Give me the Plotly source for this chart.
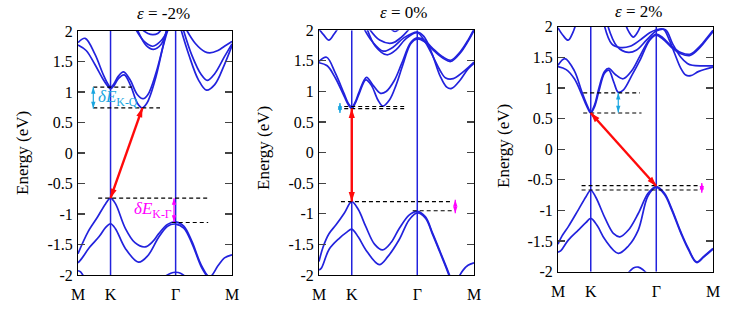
import plotly.graph_objects as go

W, H = 730, 312
PAGE_OFFSET = 0  # body margin removed by post_script below

# ---------------- data ----------------
KPATH_VALS = [0.0, 1.0, 3.0, 4.732]
KPATH_LABELS = ["M", "K", "Γ", "M"]
SYM_LINES = [1.0, 3.0]
Y_TICKS = [-2, -1.5, -1, -0.5, 0, 0.5, 1, 1.5, 2]
Y_TICKTEXT = ["-2", "-1.5", "-1", "-0.5", "0", "0.5", "1", "1.5", "2"]
TITLES = ["<i>ε</i> = -2%", "<i>ε</i> = 0%", "<i>ε</i> = 2%"]

# Panel 1 (strain -2%) bands: (k, E)
P1_CB1 = [(0,1.77),(0.25,1.68),(0.52,1.45),(0.78,1.2),(0.92,1.09),(1.0,1.05),(1.1,1.1),(1.24,1.22),(1.42,1.28),(1.62,1.1),(1.82,0.82),(1.97,0.74),(2.12,0.82),(2.37,1.2),(2.55,1.6),(2.75,2.1)]
P1_CB2 = [(0,1.81),(0.22,1.88),(0.52,1.62),(0.78,1.28),(0.92,1.13),(1.0,1.08),(1.1,1.13),(1.24,1.26),(1.4,1.33),(1.6,1.2),(1.82,0.96),(2.0,0.89),(2.15,0.96),(2.4,1.32),(2.6,1.72),(2.8,2.1)]
P1_U1 = [(1.75,2.05),(2.05,1.82),(2.3,1.75),(2.55,1.84),(2.8,2.05)]
P1_U2 = [(1.8,2.05),(2.1,1.76),(2.32,1.70),(2.55,1.78),(2.75,2.05)]
P1_U3 = [(1.9,2.05),(2.15,1.96),(2.3,1.94),(2.45,1.96),(2.6,2.05)]
P1_R1 = [(3.15,2.05),(3.4,1.62),(3.7,1.2),(3.95,1.03),(4.2,1.12),(4.5,1.45),(4.732,1.76)]
P1_R2 = [(3.22,2.05),(3.5,1.6),(3.78,1.29),(3.97,1.19),(4.2,1.3),(4.5,1.58),(4.732,1.79)]
P1_R3 = [(3.3,2.05),(3.6,1.8),(3.9,1.66),(4.05,1.64),(4.3,1.68),(4.5,1.75),(4.732,1.83)]
P1_VB1 = [(0,-1.65),(0.3,-1.3),(0.6,-1.05),(0.85,-0.83),(1.0,-0.74),(1.15,-0.83),(1.45,-1.23),(1.75,-1.47),(2.06,-1.54),(2.3,-1.45),(2.47,-1.33),(2.75,-1.17),(3.0,-1.13),(3.25,-1.2),(3.5,-1.45),(3.8,-1.85),(4.05,-2.03),(4.3,-1.85),(4.5,-1.72),(4.732,-1.67)]
P1_VB2 = [(0,-1.80),(0.1,-1.74),(0.35,-1.55),(0.65,-1.37),(0.85,-1.22),(1.0,-1.16),(1.15,-1.24),(1.45,-1.56),(1.86,-1.79),(2.15,-1.68),(2.47,-1.39),(2.75,-1.2),(3.0,-1.165),(3.25,-1.23),(3.5,-1.48),(3.8,-1.88),(4.0,-2.05)]
P1_BOT1 = [(0,-1.93),(0.08,-1.95),(0.2,-2.05)]
P1_BOT2 = [(2.6,-2.05),(2.85,-1.97),(3.0,-1.955),(3.15,-1.97),(3.35,-2.05)]

# Panel 2 (strain 0%)
P2_CB1 = [(0,1.47),(0.25,1.42),(0.5,1.22),(0.77,0.92),(0.9,0.78),(1.0,0.72),(1.1,0.8),(1.23,0.97),(1.43,1.19),(1.6,1.1),(1.8,0.86),(1.95,0.76),(2.15,0.86),(2.35,1.1),(2.55,1.42),(2.8,1.78),(3.0,1.86),(3.2,1.82),(3.54,1.65),(3.8,1.54),(4.02,1.49),(4.3,1.62),(4.55,1.82),(4.732,2.0)]
P2_CB2 = [(0,1.49),(0.23,1.56),(0.5,1.3),(0.77,0.96),(0.9,0.8),(1.0,0.745),(1.1,0.82),(1.23,1.0),(1.45,1.23),(1.65,1.1),(1.88,0.97),(2.05,1.0),(2.3,1.18),(2.52,1.45),(2.8,1.8),(3.0,1.875),(3.2,1.84),(3.54,1.67),(3.8,1.56),(4.02,1.51),(4.3,1.64),(4.55,1.84),(4.732,2.02)]
P2_U1 = [(1.35,2.05),(1.62,1.82),(1.96,1.66),(2.25,1.72),(2.6,1.88),(3.0,1.97),(3.2,1.9),(3.45,1.62),(3.7,1.25),(3.9,1.07),(4.05,1.05),(4.3,1.18),(4.55,1.37),(4.732,1.46)]
P2_U2 = [(1.45,2.05),(1.72,1.74),(2.07,1.60),(2.35,1.68),(2.65,1.86),(3.0,1.96),(3.25,1.8),(3.5,1.55),(3.7,1.34),(3.87,1.22),(4.1,1.21),(4.4,1.32),(4.732,1.48)]
P2_U3 = [(1.5,2.05),(1.85,1.84),(2.22,1.79),(2.5,1.88),(2.8,2.05)]
P2_U4 = [(2.15,2.05),(2.32,1.98),(2.5,2.05)]
P2_TL = [(0,2.02),(0.15,1.92),(0.3,1.84),(0.45,1.93),(0.6,2.05)]
P2_VB1 = [(0,-1.78),(0.12,-1.55),(0.3,-1.33),(0.52,-1.18),(0.77,-0.99),(1.0,-0.80),(1.2,-0.93),(1.43,-1.21),(1.7,-1.5),(1.94,-1.59),(2.2,-1.47),(2.45,-1.24),(2.75,-1.02),(3.0,-0.96),(3.25,-1.05),(3.47,-1.32),(3.7,-1.62),(3.88,-1.86),(4.02,-2.05)]
P2_VB2 = [(0,-1.92),(0.08,-1.88),(0.31,-1.58),(0.62,-1.40),(0.85,-1.3),(1.0,-1.25),(1.2,-1.38),(1.43,-1.59),(1.84,-1.83),(2.1,-1.7),(2.45,-1.42),(2.75,-1.1),(3.0,-0.985),(3.25,-1.07),(3.47,-1.34),(3.7,-1.64),(3.88,-1.88),(4.0,-2.05)]
P2_BOT = [(4.25,-2.05),(4.4,-1.92),(4.55,-1.84),(4.732,-1.80)]

# Panel 3 (strain 2%)
P3_CB1 = [(0,1.35),(0.25,1.3),(0.5,1.15),(0.72,0.9),(0.88,0.7),(1.0,0.59),(1.12,0.7),(1.25,0.95),(1.42,1.24),(1.55,1.29),(1.7,1.1),(1.84,0.93),(2.0,0.97),(2.25,1.2),(2.5,1.45),(2.8,1.78),(3.0,1.86),(3.2,1.8),(3.47,1.66),(3.75,1.56),(4.03,1.53),(4.35,1.67),(4.55,1.8),(4.732,1.92)]
P3_CB2 = [(0,1.37),(0.21,1.48),(0.5,1.28),(0.72,0.95),(0.88,0.73),(1.0,0.61),(1.12,0.73),(1.25,1.0),(1.42,1.27),(1.55,1.32),(1.75,1.22),(1.99,1.15),(2.25,1.28),(2.5,1.52),(2.8,1.8),(3.0,1.88),(3.2,1.82),(3.47,1.68),(3.75,1.58),(4.03,1.55),(4.35,1.69),(4.55,1.82),(4.732,1.94)]
P3_U1 = [(1.4,2.05),(1.64,1.72),(1.9,1.66),(2.2,1.68),(2.5,1.78),(2.8,1.9),(3.0,1.95),(3.22,1.96),(3.4,1.78),(3.57,1.55),(3.75,1.32),(3.9,1.21),(4.05,1.2),(4.3,1.27),(4.732,1.34)]
P3_U2 = [(1.5,2.05),(1.8,1.68),(2.15,1.58),(2.4,1.62),(2.7,1.78),(3.0,1.93),(3.28,1.95),(3.5,1.72),(3.75,1.5),(3.95,1.4),(4.1,1.37),(4.4,1.36),(4.732,1.36)]
P3_U3 = [(2.05,2.05),(2.18,1.9),(2.3,1.83),(2.42,1.9),(2.55,2.05)]
P3_TL = [(0,1.98),(0.15,1.86),(0.31,1.78),(0.45,1.9),(0.55,2.05)]
P3_VB1 = [(0,-1.55),(0.12,-1.42),(0.32,-1.26),(0.62,-0.99),(0.85,-0.78),(1.0,-0.67),(1.15,-0.78),(1.44,-1.13),(1.7,-1.38),(1.89,-1.43),(2.15,-1.32),(2.45,-1.05),(2.75,-0.72),(3.0,-0.61),(3.25,-0.72),(3.47,-0.97),(3.75,-1.35),(3.98,-1.62),(4.23,-1.84),(4.45,-1.75),(4.732,-1.62)]
P3_VB2 = [(0,-1.68),(0.08,-1.66),(0.32,-1.48),(0.62,-1.32),(0.85,-1.2),(1.0,-1.13),(1.2,-1.25),(1.44,-1.48),(1.84,-1.70),(2.15,-1.58),(2.45,-1.32),(2.75,-0.76),(3.0,-0.625),(3.25,-0.74),(3.47,-0.99),(3.75,-1.37),(3.98,-1.64),(4.23,-1.85),(4.45,-1.76),(4.732,-1.63)]
P3_BOT = [(2.1,-2.05),(2.3,-1.94),(2.45,-1.925),(2.6,-1.97),(2.75,-2.05)]

PANEL_BANDS = [
    [P1_CB1, P1_CB2, P1_U1, P1_U2, P1_U3, P1_R1, P1_R2, P1_R3, P1_VB1, P1_VB2, P1_BOT1, P1_BOT2],
    [P2_CB1, P2_CB2, P2_U1, P2_U2, P2_U3, P2_U4, P2_TL, P2_VB1, P2_VB2, P2_BOT],
    [P3_CB1, P3_CB2, P3_U1, P3_U2, P3_U3, P3_TL, P3_VB1, P3_VB2, P3_BOT],
]

# dashed reference levels: (k_start, k_end, E)
P1_DASH = [(0.47, 1.65, 1.08), (0.47, 2.52, 0.74), (0.62, 4.0, -0.74), (2.88, 4.0, -1.14)]
P2_DASH = [(0.77, 2.6, 0.755), (0.77, 2.6, 0.72), (0.67, 4.08, -0.80), (2.86, 4.08, -0.95)]
P3_DASH = [(0.77, 2.5, 0.92), (0.77, 2.55, 0.59), (0.72, 4.3, -0.595), (0.72, 4.3, -0.665)]
PANEL_DASH = [P1_DASH, P2_DASH, P3_DASH]

# transitions (k_a, E_a, k_b, E_b), double-headed
RED_ARROWS = [(1.0, -0.74, 1.98, 0.74), (1.0, -0.80, 1.0, 0.72), (1.0, 0.59, 3.0, -0.60)]
CYAN_ARROWS = [(0.47, 1.08, 0.47, 0.73), (0.64, 0.81, 0.64, 0.65), (1.84, 0.92, 1.84, 0.60)]
MAG_ARROWS = [(2.95, -0.74, 2.95, -1.13), (4.16, -0.77, 4.16, -0.99), (4.39, -0.55, 4.39, -0.71)]

# ---------------- style / layout ----------------
BLUE = "#2222dd"
CYAN = "#1aa6e0"
MAG = "#ff00ff"
RED = "#ff0a0a"
SERIF = "Liberation Serif, Times New Roman, DejaVu Serif, serif"

# panel boxes in target pixels: (left, right, top(E=2), bottom(E=-2))
BOXES = [(78, 232, 31, 275), (319, 474, 30.3, 275), (558, 713, 26.7, 271.7)]
TITLE_POS = [(163, 14), (403, 13), (638, 12)]
YTITLE_POS = [(22, 153), (263, 148), (503, 146)]


def px_x(p):
    return (p - PAGE_OFFSET) / W


def px_y(p):
    return 1 - (p - PAGE_OFFSET) / H


fig = go.Figure()
annotations = []
layout = dict(
    width=W, height=H, margin=dict(l=0, r=0, t=0, b=0, autoexpand=False),
    paper_bgcolor="white", plot_bgcolor="white", showlegend=False,
)


def add_double_arrow(xa, ya, spec, color, lw, head):
    ka, ea, kb, eb = spec
    fig.add_trace(go.Scatter(
        x=[ka, kb], y=[ea, eb], mode="lines", line=dict(color=color, width=lw),
        xaxis=xa, yaxis=ya, hoverinfo="skip"))
    for (k0, e0, k1, e1) in ((ka, ea, kb, eb), (kb, eb, ka, ea)):
        fig.add_trace(go.Scatter(
            x=[k0, k1], y=[e0, e1], mode="markers",
            marker=dict(symbol="arrow", angleref="previous", size=head, color=color,
                        line=dict(width=0)),
            xaxis=xa, yaxis=ya, hoverinfo="skip", cliponaxis=False))


for i in range(3):
    suf = "" if i == 0 else str(i + 1)
    xa, ya = "x" + suf, "y" + suf
    l, r, t, b = BOXES[i]
    for band in PANEL_BANDS[i]:
        fig.add_trace(go.Scatter(
            x=[p[0] for p in band], y=[p[1] for p in band], mode="lines",
            line=dict(color=BLUE, width=1.7, shape="spline", smoothing=1.0),
            xaxis=xa, yaxis=ya, hoverinfo="skip"))
    for v in SYM_LINES:
        fig.add_trace(go.Scatter(
            x=[v, v], y=[Y_TICKS[0], Y_TICKS[-1]], mode="lines",
            line=dict(color=BLUE, width=1.5), xaxis=xa, yaxis=ya, hoverinfo="skip"))
    for (k0, k1, e) in PANEL_DASH[i]:
        fig.add_trace(go.Scatter(
            x=[k0, k1], y=[e, e], mode="lines",
            line=dict(color="black", width=1.1, dash="4px,3px"),
            xaxis=xa, yaxis=ya, hoverinfo="skip"))

    add_double_arrow(xa, ya, RED_ARROWS[i], RED, 2.4, 10)
    add_double_arrow(xa, ya, CYAN_ARROWS[i], CYAN, 1.2, 7)
    add_double_arrow(xa, ya, MAG_ARROWS[i], MAG, 1.2, 7)

    layout["xaxis" + suf] = dict(
        domain=[px_x(l), px_x(r)], range=[KPATH_VALS[0], KPATH_VALS[-1]], anchor=ya,
        tickvals=KPATH_VALS, ticktext=KPATH_LABELS, ticks="", automargin=False,
        showline=True, linecolor="black", linewidth=1, mirror=True,
        showgrid=False, zeroline=False, ticklabelstandoff=5,
        tickfont=dict(family=SERIF, size=16, color="black"))
    layout["yaxis" + suf] = dict(
        domain=[px_y(b), px_y(t)], range=[Y_TICKS[0], Y_TICKS[-1]], anchor=xa,
        tickvals=Y_TICKS, ticktext=Y_TICKTEXT, ticks="inside", ticklen=7,
        tickcolor="#444", tickwidth=1.2, automargin=False,
        showline=True, linecolor="black", linewidth=1, mirror="ticks",
        showgrid=False, zeroline=False, ticklabelstandoff=1,
        tickfont=dict(family=SERIF, size=16, color="black"))

    tx, ty = TITLE_POS[i]
    annotations.append(dict(
        x=px_x(tx), y=px_y(ty), xref="paper", yref="paper", text=TITLES[i],
        showarrow=False, font=dict(family=SERIF, size=17, color="black"),
        xanchor="center", yanchor="middle"))
    yx, yy = YTITLE_POS[i]
    annotations.append(dict(
        x=px_x(yx), y=px_y(yy), xref="paper", yref="paper", text="Energy (eV)",
        showarrow=False, textangle=-90, font=dict(family=SERIF, size=17, color="black"),
        xanchor="center", yanchor="middle"))

# gap labels in panel 1
annotations.append(dict(
    x=1.215, y=0.90, xref="x", yref="y", text="<i>δE</i><sub>K-Q</sub>",
    showarrow=False, font=dict(family=SERIF, size=17, color=CYAN)))
annotations.append(dict(
    x=2.29, y=-0.93, xref="x", yref="y", text="<i>δE</i><sub>K-Γ</sub>",
    showarrow=False, font=dict(family=SERIF, size=17, color=MAG)))

layout["annotations"] = annotations
fig.update_layout(**layout)
fig.write_html(
    "out.html",
    config={"displayModeBar": False, "staticPlot": True},
    post_script="document.body.style.margin='0';document.body.style.padding='0';",
)
